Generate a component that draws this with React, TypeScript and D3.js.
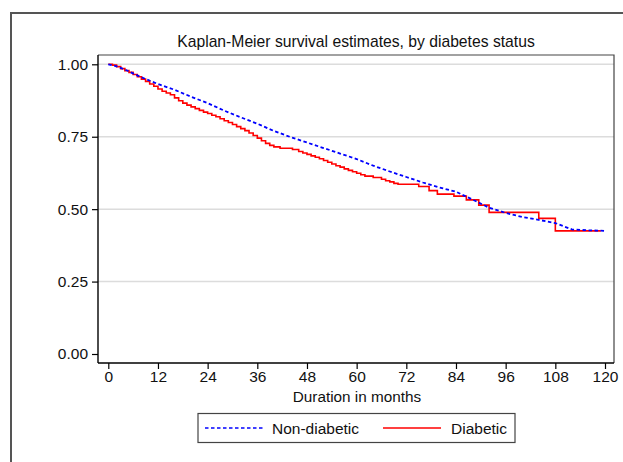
import React, { useEffect, useRef } from "react";
import * as d3 from "d3";

// Kaplan-Meier estimates, months since baseline
const nonDiabeticMonths = [0, 2, 4, 8, 12, 16, 20, 24, 28, 32, 36, 40, 44, 48, 52, 56, 60, 64, 68, 72, 76, 80, 84, 88, 92, 96, 100, 104, 108, 112, 116, 120];
const nonDiabeticSurvival = [1.0, 0.993, 0.982, 0.955, 0.932, 0.912, 0.888, 0.866, 0.84, 0.817, 0.795, 0.77, 0.749, 0.73, 0.711, 0.692, 0.673, 0.65, 0.63, 0.611, 0.592, 0.575, 0.56, 0.533, 0.505, 0.487, 0.473, 0.463, 0.452, 0.43, 0.427, 0.425];

const diabeticMonths = [
  0, 1, 2, 3, 4, 5, 6, 7, 8, 9, 10, 11, 12, 13, 14, 15, 16, 17, 18, 19, 20,
  21, 22, 23, 24, 25, 26, 27, 28, 29, 30, 31, 32, 33, 34, 35, 36, 37, 38, 39, 40,
  41.5, 44.5, 46, 47, 48, 49, 50, 51, 52, 53, 54, 55, 56, 57, 58, 59, 60, 61, 62,
  64, 66, 67, 68, 69, 70, 75, 77.5, 79.5, 83.5, 86.5, 89.5, 92, 104, 108, 119,
];
const diabeticSurvival = [
  1.0, 0.997, 0.992, 0.985, 0.978, 0.972, 0.965, 0.957, 0.949, 0.941, 0.932, 0.924, 0.915, 0.907, 0.901, 0.895, 0.884, 0.874, 0.866, 0.859, 0.853,
  0.847, 0.841, 0.835, 0.83, 0.824, 0.819, 0.812, 0.805, 0.799, 0.792, 0.785, 0.778, 0.771, 0.763, 0.754, 0.745, 0.736, 0.727, 0.72, 0.715,
  0.71, 0.706, 0.699, 0.694, 0.689, 0.684, 0.679, 0.674, 0.668, 0.662, 0.656, 0.65, 0.645, 0.639, 0.634, 0.629, 0.624, 0.619, 0.614,
  0.609, 0.603, 0.598, 0.594, 0.589, 0.586, 0.578, 0.564, 0.552, 0.545, 0.532, 0.514, 0.489, 0.468, 0.425, 0.425,
];

const xTicks = [0, 12, 24, 36, 48, 60, 72, 84, 96, 108, 120];
const yTicks = [0, 0.25, 0.5, 0.75, 1.0];
const seriesNames = ["Non-diabetic", "Diabetic"];

const W = 623;
const H = 462;
const FONT = "'Liberation Sans', Arial, sans-serif";

export default function App() {
  const ref = useRef<SVGSVGElement>(null);

  useEffect(() => {
    const svg = d3.select(ref.current);
    svg.selectAll("*").remove();

    const left = 98, right = 614, top = 55, bottom = 363;
    const x = d3.scaleLinear().domain([0, 120]).range([108.3, 605]);
    const y = d3.scaleLinear().domain([0, 1]).range([354, 64.3]);

    svg.append("rect").attr("width", W).attr("height", H).attr("fill", "#fff");

    // outer graph region border
    svg.append("rect")
      .attr("x", 11).attr("y", 13).attr("width", 700).attr("height", 600)
      .attr("fill", "none").attr("stroke", "#555").attr("stroke-width", 2);

    // title
    svg.append("text")
      .attr("x", (left + right) / 2).attr("y", 47)
      .attr("text-anchor", "middle")
      .attr("font-family", FONT).attr("font-size", 15.7)
      .attr("fill", "#111")
      .text("Kaplan-Meier survival estimates, by diabetes status");

    // grid lines
    svg.append("g").selectAll("line")
      .data(yTicks.filter((t) => t > 0))
      .join("line")
      .attr("x1", left).attr("x2", right)
      .attr("y1", (d) => y(d)).attr("y2", (d) => y(d))
      .attr("stroke", "#dcdcdc").attr("stroke-width", 1.5);

    // plot frame (top and right)
    svg.append("path")
      .attr("d", `M${left},${top}H${right}V${bottom}`)
      .attr("fill", "none").attr("stroke", "#444").attr("stroke-width", 1.2);

    // y axis
    const yAxis = svg.append("g").attr("transform", `translate(${left},0)`)
      .call(d3.axisLeft(y).tickValues(yTicks).tickFormat(d3.format(".2f")).tickSize(6).tickPadding(4));
    yAxis.select(".domain").attr("d", `M0,${top}V${bottom}`).attr("stroke", "#000").attr("stroke-width", 1.4);
    yAxis.selectAll(".tick line").attr("stroke", "#000").attr("stroke-width", 1.2);
    yAxis.selectAll(".tick text").attr("font-family", FONT).attr("font-size", 15.5).attr("fill", "#111");

    // x axis
    const xAxis = svg.append("g").attr("transform", `translate(0,${bottom})`)
      .call(d3.axisBottom(x).tickValues(xTicks).tickFormat(d3.format("d")).tickSize(6).tickPadding(2));
    xAxis.select(".domain").attr("d", `M${left},0H${right}`).attr("stroke", "#000").attr("stroke-width", 1.4);
    xAxis.selectAll(".tick line").attr("stroke", "#000").attr("stroke-width", 1.2);
    xAxis.selectAll(".tick text").attr("font-family", FONT).attr("font-size", 15.5).attr("fill", "#111");

    svg.append("text")
      .attr("x", (left + right) / 2 + 1).attr("y", 402)
      .attr("text-anchor", "middle")
      .attr("font-family", FONT).attr("font-size", 15.3)
      .attr("fill", "#111")
      .text("Duration in months");

    // survival curves
    const nonDiab = nonDiabeticMonths.map((m, i) => [m, nonDiabeticSurvival[i]] as [number, number]);
    const diab = diabeticMonths.map((m, i) => [m, diabeticSurvival[i]] as [number, number]);

    const linear = d3.line<[number, number]>().x((d) => x(d[0])).y((d) => y(d[1]));
    const step = d3.line<[number, number]>().x((d) => x(d[0])).y((d) => y(d[1])).curve(d3.curveStepAfter);

    svg.append("path").datum(diab).attr("d", step)
      .attr("fill", "none").attr("stroke", "#ff0000").attr("stroke-width", 1.6);

    svg.append("path").datum(nonDiab).attr("d", linear)
      .attr("fill", "none").attr("stroke", "#0000ff").attr("stroke-width", 1.8)
      .attr("stroke-dasharray", "3.5,2.5");

    // legend
    const lg = svg.append("g");
    lg.append("rect")
      .attr("x", 198).attr("y", 413.5).attr("width", 317).attr("height", 29)
      .attr("fill", "#fff").attr("stroke", "#444").attr("stroke-width", 1.2);
    const items = [
      { x0: 205, x1: 263, tx: 272, color: "#0000ff", dash: "3.5,2.5" },
      { x0: 383, x1: 441, tx: 451, color: "#ff0000", dash: null },
    ];
    items.forEach((it, i) => {
      lg.append("line")
        .attr("x1", it.x0).attr("x2", it.x1).attr("y1", 428).attr("y2", 428)
        .attr("stroke", it.color).attr("stroke-width", 1.3)
        .attr("stroke-dasharray", it.dash);
      lg.append("text")
        .attr("x", it.tx).attr("y", 433.5)
        .attr("font-family", FONT).attr("font-size", 15.5).attr("fill", "#111")
        .text(seriesNames[i]);
    });
  }, []);

  return (
    <svg
      ref={ref}
      width={W}
      height={H}
      style={{ position: "absolute", left: 0, top: 0, display: "block" }}
    />
  );
}
